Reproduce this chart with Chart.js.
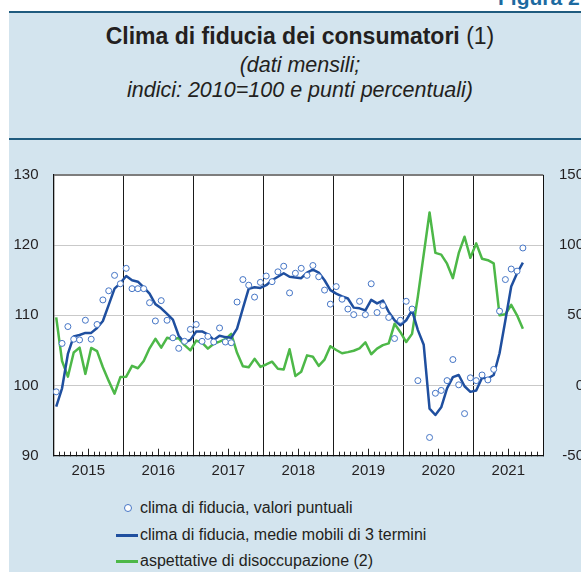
<!DOCTYPE html>
<html>
<head>
<meta charset="utf-8">
<script src="https://cdn.jsdelivr.net/npm/chart.js@4.4.0/dist/chart.umd.min.js"></script>
<style>
html,body{margin:0;padding:0;width:581px;height:572px;overflow:hidden;background:#fff;font-family:"Liberation Sans",Arial,sans-serif;color:#231f20;}
#panel{position:absolute;left:9px;top:11px;width:620px;height:620px;background:#d3e4ee;border-top:2px solid #1f5b7e;}
#fig{position:absolute;left:498px;top:-14px;font-weight:bold;font-size:21px;color:#1d6aa0;white-space:nowrap;}
#sep{position:absolute;left:9px;top:138px;width:620px;height:2px;background:#1f5b7e;}
.t{position:absolute;left:9px;width:582px;text-align:center;white-space:nowrap;}
#t1{top:23px;font-size:23px;line-height:26px;}
#t2{top:53px;font-size:21.5px;line-height:24px;font-style:italic;}
#t3{top:78px;font-size:21.5px;line-height:24px;font-style:italic;}
#c{position:absolute;left:0;top:150px;}
.lg{position:absolute;left:116px;height:20px;font-size:16px;line-height:20px;white-space:nowrap;}
.lg .mk{display:inline-block;width:22px;height:20px;position:relative;vertical-align:top;margin-right:2px;}
.lg .ln{position:absolute;left:0;top:9px;width:22px;height:2.5px;}
.lg .dot{position:absolute;left:8px;top:6px;width:6px;height:6px;border:1px solid #4676c6;border-radius:50%;background:#fff;}
</style>
</head>
<body>
<div id="panel"></div>
<div id="fig">Figura 2</div>
<div id="sep"></div>
<div class="t" id="t1"><b>Clima di fiducia dei consumatori</b> (1)</div>
<div class="t" id="t2">(dati mensili;</div>
<div class="t" id="t3">indici: 2010=100 e punti percentuali)</div>
<canvas id="c" width="584" height="340"></canvas>
<div class="lg" style="top:498px"><span class="mk"><span class="dot"></span></span>clima di fiducia, valori puntuali</div>
<div class="lg" style="top:525px"><span class="mk"><span class="ln" style="background:#1f4f9f"></span></span>clima di fiducia, medie mobili di 3 termini</div>
<div class="lg" style="top:551px"><span class="mk"><span class="ln" style="background:#4db848"></span></span>aspettative di disoccupazione (2)</div>
<script>
const anni = ['2015','2016','2017','2018','2019','2020','2021'];
const mesi = ['gen','feb','mar','apr','mag','giu','lug','ago','set','ott','nov','dic'];
const yTicksSinistra = [90,100,110,120,130];
const yTicksDestra = [-50,0,50,100,150];

const fiduciaPuntuali = [
  99.1,106.0,108.4,106.6,106.5,109.3,106.6,108.7,112.2,113.5,115.7,114.5,
  116.7,113.8,113.8,113.8,111.8,109.2,112.1,109.3,106.8,105.3,106.3,108.0,
  108.7,106.3,107.0,106.2,108.2,106.2,106.1,111.9,115.1,114.3,112.6,114.7,
  115.6,114.8,116.2,117.0,113.2,116.0,116.7,115.7,117.1,115.5,113.6,111.6,
  114.1,112.3,110.9,110.1,112.0,110.1,114.5,110.4,111.4,109.7,106.7,109.3,
  112.0,110.9,100.7,null,92.6,98.9,99.3,100.7,103.7,100.1,96.0,101.1,
  100.7,101.5,100.8,102.3,110.6,115.1,116.6,116.3,119.6
];
const fiduciaMedie = [
  97.0,99.6,104.5,107.0,107.2,107.5,107.5,108.2,109.2,111.5,113.8,114.6,
  115.6,115.0,114.8,114.0,113.1,111.6,111.0,110.2,109.4,107.1,106.1,106.5,
  107.7,107.7,107.3,106.5,107.1,106.9,106.8,108.1,111.0,113.8,114.0,113.9,
  114.3,115.0,115.5,116.0,115.5,115.4,115.3,116.1,116.5,116.1,115.0,113.6,
  113.1,112.7,112.4,111.1,111.0,110.7,112.2,111.7,112.1,110.5,109.3,108.6,
  109.3,110.7,107.9,105.8,96.7,95.8,96.9,99.6,101.2,101.5,99.9,99.1,
  99.3,101.1,101.0,101.5,104.6,109.3,114.1,116.0,117.5
];
const aspettativeDisoccupazione = [
  48.5,17.5,6.3,23.5,27.0,8.3,26.8,24.5,13.0,3.3,-5.8,6.0,
  6.3,14.0,12.3,17.5,26.5,33.3,27.0,34.0,33.0,33.8,28.8,25.0,
  32.0,30.5,26.3,29.8,31.3,33.0,36.8,23.3,13.8,13.0,19.0,13.3,
  15.0,17.0,12.0,11.5,25.8,6.8,9.8,21.5,20.5,14.0,18.5,28.0,
  25.3,23.0,23.8,24.8,26.5,30.8,22.3,26.3,28.8,30.0,44.0,38.0,
  31.0,36.8,63.5,null,123.3,94.5,93.3,86.8,76.5,94.3,106.0,91.0,
  101.3,90.3,89.3,87.0,50.0,50.8,57.5,50.0,40.5
];

const periodi = anni.flatMap(a => mesi.map(m => m + ' ' + a));
const toXY = arr => arr.map((v, i) => ({x: i + 0.5, y: v, periodo: periodi[i]}));

const areaBianca = {
  id: 'areaBianca',
  beforeDraw(chart) {
    const {ctx, chartArea: a} = chart;
    ctx.save();
    ctx.fillStyle = '#ffffff';
    ctx.fillRect(a.left, a.top, a.right - a.left, a.bottom - a.top);
    ctx.restore();
  }
};

const font = {family: '"Liberation Sans", Arial, sans-serif', size: 15};

new Chart(document.getElementById('c'), {
  type: 'line',
  data: {
    datasets: [
      {
        label: 'clima di fiducia, valori puntuali',
        data: toXY(fiduciaPuntuali),
        showLine: false,
        pointStyle: 'circle',
        pointRadius: 3,
        pointBorderWidth: 1,
        pointBorderColor: '#4676c6',
        pointBackgroundColor: '#ffffff',
        borderColor: '#4676c6',
        yAxisID: 'y', xAxisID: 'x'
      },
      {
        label: 'clima di fiducia, medie mobili di 3 termini',
        data: toXY(fiduciaMedie),
        borderColor: '#1f4f9f',
        borderWidth: 2.5,
        pointRadius: 0,
        tension: 0,
        borderJoinStyle: 'round',
        yAxisID: 'y', xAxisID: 'x'
      },
      {
        label: 'aspettative di disoccupazione (2)',
        data: toXY(aspettativeDisoccupazione),
        borderColor: '#4db848',
        borderWidth: 2.5,
        pointRadius: 0,
        tension: 0,
        spanGaps: true,
        borderJoinStyle: 'round',
        yAxisID: 'y2', xAxisID: 'x'
      }
    ]
  },
  options: {
    responsive: false,
    animation: false,
    devicePixelRatio: 1,
    layout: {padding: {top: 25, left: 0, right: 0, bottom: 0}},
    plugins: {legend: {display: false}, tooltip: {enabled: false}},
    scales: {
      x2: {
        type: 'linear', position: 'bottom', weight: -1,
        min: 0, max: periodi.length,
        afterBuildTicks: s => { s.ticks = anni.map((a, j) => ({value: j * 12 + 6})); },
        afterFit: s => { s.height = 0; },
        ticks: {display: false},
        grid: {drawOnChartArea: false, drawTicks: true, tickLength: -7, tickColor: '#222', tickWidth: 1, color: 'rgba(0,0,0,0)'},
        border: {display: false}
      },
      x: {
        type: 'linear', position: 'bottom', weight: 0,
        min: 0, max: periodi.length,
        afterBuildTicks: s => { s.ticks = periodi.map((p, i) => ({value: i})).concat([{value: periodi.length}]); },
        afterFit: s => { s.height = 34.3; },
        ticks: {
          autoSkip: false, maxRotation: 0, minRotation: 0, padding: 10.3,
          color: '#231f20', font: font,
          callback: v => (v % 12 === 6 ? anni[(v - 6) / 12] : '')
        },
        grid: {
          drawTicks: true, tickLength: -4, tickColor: '#222', tickWidth: 1,
          color: c => (c.tick && c.tick.value % 12 === 0 && c.tick.value > 0 && c.tick.value < periodi.length) ? '#1a1a1a' : 'rgba(0,0,0,0)',
          lineWidth: 1
        },
        border: {display: true, color: '#111', width: 1.3}
      },
      y: {
        type: 'linear', position: 'left',
        min: 90, max: 130,
        afterBuildTicks: s => { s.ticks = yTicksSinistra.map(v => ({value: v})); },
        afterFit: s => { s.width = 53.3; },
        ticks: {padding: 14.8, color: '#231f20', font: font},
        grid: {
          drawTicks: false,
          color: c => c.tick.value === 130 ? '#7d7d7d' : (c.tick.value === 90 ? 'rgba(0,0,0,0)' : '#c9c9c9'),
          lineWidth: c => c.tick.value === 130 ? 2 : 1
        },
        border: {display: true, color: '#111', width: 1.3}
      },
      y2: {
        type: 'linear', position: 'right',
        min: -50, max: 150,
        afterBuildTicks: s => { s.ticks = yTicksDestra.map(v => ({value: v})); },
        afterFit: s => { s.width = 40.7; },
        ticks: {crossAlign: 'far', color: '#231f20', font: font},
        grid: {drawOnChartArea: false, drawTicks: false},
        border: {display: true, color: '#111', width: 1}
      }
    }
  },
  plugins: [areaBianca]
});
</script>
</body>
</html>
